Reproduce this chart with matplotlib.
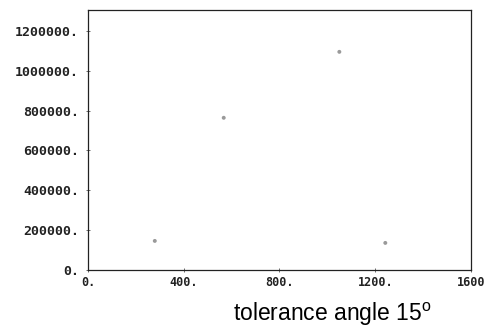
import matplotlib
matplotlib.use("Agg")
import matplotlib.pyplot as plt
import matplotlib.transforms as mtransforms

# data
x_vals = [279, 567, 1050, 1242]
y_vals = [146000, 764000, 1095000, 136000]
x_ticks = [0, 400, 800, 1200, 1600]
x_tick_labels = ["0.", "400.", "800.", "1200.", "1600"]
y_ticks = [0, 200000, 400000, 600000, 800000, 1000000, 1200000]
y_tick_labels = ["0.", "200000.", "400000.", "600000.", "800000.", "1000000.", "1200000."]

fig = plt.figure(figsize=(4.85, 3.27), dpi=100)
ax = fig.add_axes([88/485, 1-270/327, (471-88)/485, (270-10)/327])
ax.scatter(x_vals, y_vals, s=8, color="#9a9a9a", edgecolors="none")
ax.set_xlim(0, 1600)
ax.set_ylim(0, 1305000)
ax.set_xticks(x_ticks)
ax.set_xticklabels(x_tick_labels)
ax.set_yticks(y_ticks)
ax.set_yticklabels(y_tick_labels)
for lab in ax.get_yticklabels():
    lab.set_family("DejaVu Sans Mono")
    lab.set_fontweight("bold")
    lab.set_fontsize(9.5)
    lab.set_color("#222222")
for lab in ax.get_xticklabels():
    lab.set_family("DejaVu Sans Mono")
    lab.set_fontweight("bold")
    lab.set_fontsize(8.5)
    lab.set_color("#222222")
last = ax.get_xticklabels()[-1]
last.set_transform(last.get_transform() + mtransforms.ScaledTranslation(-3/100, 0, fig.dpi_scale_trans))
ax.tick_params(direction="inout", length=3, width=0.6, color="#555555")
ax.tick_params(axis="y", pad=5)
ax.tick_params(axis="x", pad=3)
for sp in ax.spines.values():
    sp.set_linewidth(0.9)
    sp.set_color("#222222")
fig.text(332/485, 1-314/327, "tolerance angle 15$^\\mathregular{o}$",
         family="Liberation Sans", fontsize=16.5, ha="center", va="center")
fig.savefig("out.png", dpi=100)
